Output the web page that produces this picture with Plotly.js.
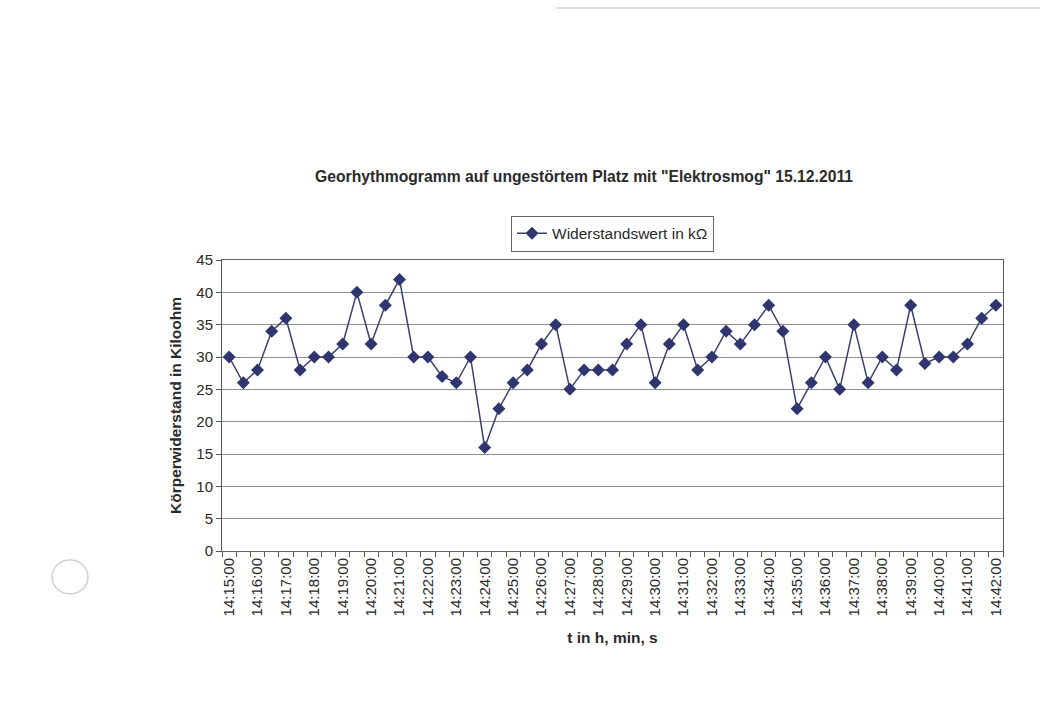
<!DOCTYPE html>
<html>
<head>
<meta charset="utf-8">
<script src="https://cdn.plot.ly/plotly-3.0.1.min.js"></script>
<style>html,body{margin:0;padding:0;background:#fff;}#chart{width:1040px;height:711px;}</style>
</head>
<body>
<div id="chart"></div>
<script>
const times = [
  "14:15:00","14:15:30","14:16:00","14:16:30","14:17:00","14:17:30","14:18:00","14:18:30",
  "14:19:00","14:19:30","14:20:00","14:20:30","14:21:00","14:21:30","14:22:00","14:22:30",
  "14:23:00","14:23:30","14:24:00","14:24:30","14:25:00","14:25:30","14:26:00","14:26:30",
  "14:27:00","14:27:30","14:28:00","14:28:30","14:29:00","14:29:30","14:30:00","14:30:30",
  "14:31:00","14:31:30","14:32:00","14:32:30","14:33:00","14:33:30","14:34:00","14:34:30",
  "14:35:00","14:35:30","14:36:00","14:36:30","14:37:00","14:37:30","14:38:00","14:38:30",
  "14:39:00","14:39:30","14:40:00","14:40:30","14:41:00","14:41:30","14:42:00"
];
const widerstand = [
  30,26,28,34,36,28,30,30,32,40,
  32,38,42,30,30,27,26,30,16,22,
  26,28,32,35,25,28,28,28,32,35,
  26,32,35,28,30,34,32,35,38,34,
  22,26,30,25,35,26,30,28,38,29,
  30,30,32,36,38
];
const yTicks = [0,5,10,15,20,25,30,35,40,45];
// only full minutes carry a label
const minuteLabels = times.map(t => (t.slice(-2) === "00" ? t : ""));

const font = "Liberation Sans, Arial, sans-serif";
const navy = "#2f356f";
const txt = "#2a2a2a";

Plotly.newPlot("chart", [{
  type: "scatter",
  mode: "lines+markers",
  x: times,
  y: widerstand,
  name: "Widerstandswert in kΩ",
  line: {color: "#3a3f70", width: 1.5},
  marker: {symbol: "diamond", size: 10, color: navy}
}], {
  width: 1040, height: 711,
  margin: {l: 222, r: 37, t: 260, b: 160},
  paper_bgcolor: "#ffffff",
  plot_bgcolor: "#ffffff",
  font: {family: font, color: txt},
  title: {
    text: "<b>Georhythmogramm auf ungestörtem Platz mit \"Elektrosmog\" 15.12.2011</b>",
    font: {family: font, size: 15.7, color: txt},
    x: 584/1040, xanchor: "center", xref: "container",
    y: 1 - 177/711, yanchor: "middle", yref: "container"
  },
  showlegend: true,
  legend: {
    x: 0.5, xanchor: "center", y: 1.152, yanchor: "top",
    orientation: "h",
    bordercolor: "#666", borderwidth: 1,
    font: {family: font, size: 15.5, color: txt},
    bgcolor: "#ffffff"
  },
  xaxis: {
    type: "category",
    tickvals: times,
    ticktext: minuteLabels,
    tickangle: -90,
    tickson: "boundaries",
    ticks: "outside", ticklen: 5, tickcolor: "#555",
    tickfont: {family: font, size: 15, color: txt},
    showgrid: false,
    showline: true, linecolor: "#666", linewidth: 1, mirror: true,
    range: [-0.5, times.length - 0.5],
    title: {text: "<b>t in h, min, s</b>", font: {family: font, size: 15.5, color: txt}, standoff: 16}
  },
  yaxis: {
    range: [0, 45],
    tickvals: yTicks,
    ticks: "outside", ticklen: 5, tickcolor: "#555",
    tickfont: {family: font, size: 15, color: txt},
    showgrid: true, gridcolor: "#909090", gridwidth: 1,
    showline: true, linecolor: "#555", linewidth: 1, mirror: true,
    zeroline: false,
    title: {text: "<b>Körperwiderstand in Kiloohm</b>", font: {family: font, size: 15.5, color: txt}, standoff: 10}
  },
  shapes: [
    {type: "circle", xref: "paper", yref: "paper",
     x0: (52-222)/781, x1: (88-222)/781, y0: (551-594)/291, y1: (551-560)/291,
     line: {color: "#d0d0d0", width: 1.5}, fillcolor: "#ffffff"},
    {type: "line", xref: "paper", yref: "paper",
     x0: (555-222)/781, x1: (1040-222)/781, y0: (551-8)/291, y1: (551-8)/291,
     line: {color: "#bdbdbd", width: 1}}
  ]
}, {displayModeBar: false, staticPlot: true});
</script>
</body>
</html>
